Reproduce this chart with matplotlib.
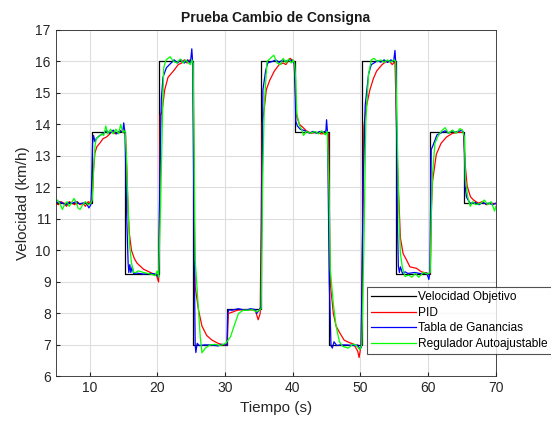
import matplotlib
matplotlib.use("Agg")
import matplotlib.pyplot as plt

plt.rcParams['font.family'] = ['Liberation Sans', 'DejaVu Sans']

# consigna (velocidad objetivo), cambios de escalon
sp_t = [5, 10.3, 15.3, 20.3, 25.3, 30.3, 35.3, 40.3, 45.3, 50.3, 55.3, 60.3, 65.3, 70]
sp_v = [11.5, 13.75, 9.25, 16, 7, 8.125, 16, 13.75, 7, 16, 9.25, 13.75, 11.5, 11.5]

# PID
pid_t = [5.0, 5.4, 5.8, 6.2, 6.6, 7.0, 7.4, 7.8, 8.2, 8.6, 9.0, 9.4, 9.8, 10.2,
         10.4, 10.6, 10.8, 11.1, 11.5, 12.0, 12.5, 13.0, 13.4, 13.8, 14.2, 14.6, 15.0, 15.3,
         15.5, 15.7, 15.9, 16.2, 16.6, 17.0, 17.5, 18.0, 18.5, 19.0, 19.5, 19.9, 20.2,
         20.35, 20.45, 20.7, 21.1, 21.6, 22.0, 22.4, 23.1, 23.6, 24.0, 24.4, 24.8, 25.2,
         25.3, 25.45, 25.6, 26.1, 26.6, 27.3, 28.1, 29.0, 29.7, 30.3,
         30.5, 31.2, 31.8, 32.5, 33.2, 33.9, 34.5, 34.9, 35.2,
         35.4, 35.5, 35.8, 36.1, 36.6, 37.3, 38.0, 38.6, 39.0, 39.6, 40.2,
         40.4, 40.6, 41.0, 41.4, 42.0, 42.7, 43.5, 44.2, 45.0, 45.3,
         45.5, 45.6, 46.0, 46.4, 46.9, 47.6, 48.4, 49.0, 49.6, 49.8, 50.1,
         50.35, 50.5, 50.9, 51.4, 51.9, 52.4, 53.2, 53.8, 54.3, 54.7, 55.1,
         55.5, 55.9, 56.3, 56.8, 57.3, 58.3, 59.0, 59.8, 60.3,
         60.5, 60.65, 61.2, 61.9, 62.7, 63.6, 64.4, 65.2,
         65.5, 65.75, 66.25, 66.7, 67.4, 68.0, 68.6, 69.2, 70.0]
pid_v = [11.5, 11.45, 11.55, 11.5, 11.4, 11.55, 11.5, 11.45, 11.55, 11.45, 11.5, 11.4, 11.55, 11.5,
         11.7, 12.6, 13.1, 13.3, 13.4, 13.55, 13.6, 13.7, 13.8, 13.7, 13.75, 13.8, 13.75, 13.7,
         12.6, 11.2, 10.5, 10.0, 9.75, 9.6, 9.5, 9.4, 9.35, 9.3, 9.25, 9.2, 9.0,
         11.5, 14.3, 14.4, 15.1, 15.5, 15.6, 15.7, 15.9, 15.95, 16.05, 15.95, 16.05, 16.0,
         15.9, 11.5, 8.85, 8.1, 7.6, 7.3, 7.15, 7.05, 7.0, 7.0,
         8.0, 8.05, 8.1, 8.12, 8.1, 8.12, 8.08, 7.8, 8.0,
         12.0, 14.05, 14.5, 15.1, 15.4, 15.7, 15.9, 15.95, 15.9, 16.1, 16.0,
         15.0, 14.25, 14.0, 13.93, 13.8, 13.72, 13.75, 13.7, 13.72, 13.7,
         9.5, 8.85, 8.0, 7.6, 7.4, 7.15, 7.07, 7.03, 6.8, 6.6, 7.0,
         11.0, 13.95, 14.6, 15.1, 15.45, 15.7, 15.9, 16.0, 16.0, 15.9, 16.0,
         12.5, 10.4, 9.9, 9.7, 9.48, 9.43, 9.32, 9.28, 9.25,
         11.5, 12.2, 13.05, 13.4, 13.6, 13.72, 13.75, 13.75,
         12.65, 12.05, 11.7, 11.6, 11.5, 11.55, 11.45, 11.5, 11.48]

# Tabla de Ganancias
tg_t = [5.0, 5.5, 6.0, 6.5, 7.0, 7.5, 8.0, 8.5, 9.0, 9.5, 9.9, 10.2,
        10.3, 10.45, 10.6, 10.8, 11.0, 11.5, 12.0, 12.5, 13.0, 13.5, 14.0, 14.5, 14.9, 15.05, 15.25,
        15.5, 15.7, 15.8, 15.95, 16.1, 16.3, 16.5, 17.0, 18.0, 19.0, 19.8, 20.2,
        20.4, 20.6, 20.85, 21.35, 21.8, 22.5, 23.0, 23.5, 24.0, 24.5, 24.9, 25.1, 25.25,
        25.45, 25.6, 25.7, 25.9, 26.2, 27.0, 28.0, 29.0, 29.5, 30.3,
        30.4, 30.6, 31.0, 32.0, 33.0, 33.8, 34.5, 34.7, 35.0, 35.3,
        35.6, 36.0, 36.3, 37.0, 37.5, 38.0, 38.5, 39.0, 39.5, 40.0, 40.25,
        40.35, 40.45, 40.7, 41.1, 41.8, 42.5, 43.0, 43.5, 44.0, 44.5, 44.9, 45.0, 45.15,
        45.4, 45.65, 45.85, 46.1, 46.5, 47.0, 48.0, 49.0, 49.6, 49.9, 50.1,
        50.4, 50.7, 51.2, 51.6, 52.0, 52.5, 53.0, 53.5, 54.0, 54.5, 54.9, 55.1, 55.25,
        55.45, 55.6, 55.75, 55.9, 56.2, 56.6, 57.0, 58.0, 59.0, 59.8, 60.1, 60.25,
        60.45, 60.65, 61.0, 61.3, 61.8, 62.5, 63.0, 63.5, 64.0, 64.5, 65.0, 65.3,
        65.45, 65.65, 65.9, 66.2, 67.0, 67.5, 68.0, 68.5, 69.0, 69.5, 70.0]
tg_v = [11.5, 11.55, 11.5, 11.45, 11.52, 11.5, 11.55, 11.48, 11.5, 11.52, 11.35, 11.45,
        12.0, 13.4, 13.65, 13.45, 13.55, 13.65, 13.7, 13.8, 13.72, 13.82, 13.7, 13.8, 13.75, 14.05, 13.7,
        11.0, 9.6, 9.3, 9.55, 9.3, 9.48, 9.27, 9.28, 9.25, 9.27, 9.25, 9.15,
        12.5, 14.8, 15.5, 15.8, 15.9, 16.05, 15.95, 16.05, 15.95, 16.05, 15.95, 16.4, 15.9,
        10.0, 7.0, 6.76, 7.05, 6.98, 7.0, 7.0, 6.97, 7.02, 7.0,
        8.0, 8.12, 8.1, 8.15, 8.1, 8.15, 8.12, 8.0, 8.1, 8.2,
        15.1, 15.7, 15.95, 16.0, 16.05, 15.97, 16.05, 16.0, 16.05, 16.02, 15.9,
        15.1, 14.1, 13.95, 13.85, 13.8, 13.72, 13.78, 13.72, 13.78, 13.75, 13.8, 14.15, 13.7,
        9.0, 6.98, 6.9, 7.1, 6.98, 7.0, 7.0, 6.98, 7.0, 6.87, 6.92,
        12.0, 14.6, 15.6, 15.9, 15.95, 16.02, 15.98, 16.05, 15.97, 16.05, 16.0, 16.35, 15.8,
        11.0, 9.5, 9.3, 9.48, 9.27, 9.32, 9.27, 9.3, 9.26, 9.28, 9.08, 9.3,
        13.2, 13.3, 13.5, 13.67, 13.72, 13.8, 13.72, 13.8, 13.75, 13.78, 13.82, 13.7,
        12.05, 11.7, 11.6, 11.5, 11.52, 11.45, 11.52, 11.48, 11.5, 11.45, 11.5]

# Regulador Autoajustable
ra_t = [5.0, 5.3, 5.7, 6.0, 6.3, 6.7, 7.0, 7.3, 7.7, 8.0, 8.3, 8.6, 9.0, 9.4, 9.8, 10.2,
        10.4, 10.6, 10.8, 11.0, 11.3, 11.8, 12.1, 12.4, 12.7, 13.1, 13.5, 13.9, 14.3, 14.6, 14.9, 15.25,
        15.45, 15.6, 15.9, 16.2, 16.5, 16.8, 17.2, 18.0, 19.0, 19.7, 20.0, 20.2,
        20.5, 20.8, 20.95, 21.3, 21.9, 22.4, 22.9, 23.4, 23.8, 24.2, 24.6, 24.9, 25.1, 25.3,
        25.45, 25.6, 26.1, 26.35, 26.6, 27.1, 27.8, 28.5, 29.3, 30.1,
        30.8, 31.5, 32.0, 32.7, 33.4, 34.0, 34.7, 35.0, 35.35,
        35.55, 35.8, 36.2, 36.7, 37.2, 37.7, 38.2, 38.6, 39.0, 39.4, 39.8, 40.1, 40.3,
        40.45, 40.6, 41.0, 41.3, 41.6, 42.0, 42.6, 43.3, 43.8, 44.3, 44.8, 45.1,
        45.35, 45.55, 46.0, 46.4, 46.9, 47.4, 48.2, 48.9, 49.4, 49.9, 50.2,
        50.5, 50.8, 51.2, 51.6, 52.0, 52.5, 53.0, 53.5, 54.0, 54.5, 54.9, 55.2,
        55.5, 55.7, 55.9, 56.2, 56.6, 57.1, 57.6, 58.1, 58.6, 59.3, 59.9, 60.3,
        60.45, 60.65, 61.0, 61.5, 62.0, 62.5, 63.0, 63.6, 64.1, 64.7, 65.1, 65.35,
        65.5, 65.85, 66.2, 66.6, 67.0, 67.8, 68.3, 68.8, 69.3, 69.8, 70.0]
ra_v = [11.55, 11.6, 11.45, 11.3, 11.45, 11.55, 11.4, 11.5, 11.65, 11.55, 11.35, 11.3, 11.45, 11.55, 11.45, 11.5,
        11.6, 12.5, 13.3, 13.55, 13.6, 13.7, 13.65, 13.95, 13.7, 13.85, 13.7, 13.85, 13.7, 14.0, 13.75, 13.8,
        13.0, 12.0, 10.2, 9.6, 9.3, 9.3, 9.35, 9.3, 9.25, 9.2, 9.35, 9.15,
        11.5, 14.5, 15.8, 16.05, 16.15, 16.0, 15.95, 16.08, 15.95, 16.05, 15.95, 15.9, 16.05, 15.95,
        13.0, 9.7, 8.1, 7.25, 6.75, 6.9, 7.0, 7.02, 6.98, 7.05,
        7.25, 7.7, 8.0, 8.1, 8.1, 8.12, 8.05, 8.1, 8.15,
        12.0, 14.6, 16.0, 16.1, 16.2, 15.95, 15.9, 16.1, 15.95, 16.08, 15.95, 16.05, 15.9,
        15.4, 14.35, 13.97, 13.85, 13.65, 13.78, 13.72, 13.78, 13.7, 13.8, 13.67, 13.78,
        12.0, 9.4, 8.3, 7.6, 7.1, 6.95, 6.9, 7.03, 6.98, 6.85, 7.0,
        10.0, 14.1, 15.6, 16.05, 16.1, 16.0, 16.05, 15.97, 16.05, 15.98, 16.05, 16.0,
        13.0, 11.0, 9.9, 9.45, 9.17, 9.22, 9.15, 9.27, 9.15, 9.3, 9.25, 9.3,
        11.0, 12.45, 13.4, 13.65, 13.8, 13.9, 13.72, 13.82, 13.72, 13.87, 13.8, 13.6,
        12.25, 11.7, 11.4, 11.55, 11.45, 11.5, 11.6, 11.45, 11.55, 11.25, 11.4]

fig = plt.figure(figsize=(5.51, 4.22), dpi=100)
ax = fig.add_axes([0.101, 0.108, 0.799, 0.821])

ax.step(sp_t, sp_v, where='post', color='k', lw=0.9, label='Velocidad Objetivo')
ax.plot(pid_t, pid_v, color='#ff0000', lw=0.9, label='PID')
ax.plot(tg_t, tg_v, color='#0000ff', lw=0.9, label='Tabla de Ganancias')
ax.plot(ra_t, ra_v, color='#00ff00', lw=0.9, label='Regulador Autoajustable')

ax.set_xlim(5, 70)
ax.set_ylim(6, 17)
ax.set_xticks(range(10, 71, 10))
ax.set_yticks(range(6, 18))
ax.grid(True, color='#dedede', lw=0.8)
ax.set_axisbelow(True)
ax.tick_params(direction='in', length=3, labelsize=10, colors='#262626')
for s in ax.spines.values():
    s.set_color('#262626')
    s.set_linewidth(0.6)

ax.set_title('Prueba Cambio de Consigna', fontsize=10, fontweight='bold', color='#1a1a1a', pad=6)
ax.set_xlabel('Tiempo (s)', fontsize=11, color='#262626')
ax.set_ylabel('Velocidad (km/h)', fontsize=11, color='#262626')

leg = ax.legend(loc='upper left', bbox_to_anchor=(0.707, 0.258), borderaxespad=0,
                fontsize=8.6, frameon=True, fancybox=False, handlelength=3.8,
                borderpad=0.35, labelspacing=0.3, handletextpad=0.15)
leg.get_frame().set_edgecolor('#262626')
leg.get_frame().set_linewidth(0.8)
leg.set_clip_on(False)

fig.savefig('out.png', dpi=100)
